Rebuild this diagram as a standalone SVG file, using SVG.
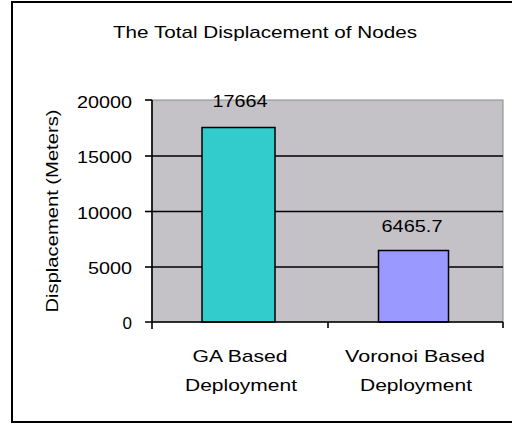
<svg xmlns="http://www.w3.org/2000/svg" width="512" height="425" viewBox="0 0 512 425">
<style>
text{font-family:"Liberation Sans",Arial,sans-serif;fill:#000;}
.t{font-size:17px;}
.ax{stroke:#000;stroke-width:1.6;fill:none;}
.grid{stroke:#000;stroke-width:1.6;}
.bar{stroke:#000;stroke-width:1.5;}
</style>
<rect x="12" y="2" width="520" height="420" fill="#fff" stroke="#000" stroke-width="2"/>
<text class="t" x="265" y="38" text-anchor="middle" textLength="304" lengthAdjust="spacingAndGlyphs">The Total Displacement of Nodes</text>
<g id="plot">
<rect x="152" y="100" width="351" height="222" fill="#c4c2c6" stroke="#888" stroke-width="1"/>
<line class="grid" x1="152" y1="156" x2="503" y2="156"/>
<line class="grid" x1="152" y1="211.5" x2="503" y2="211.5"/>
<line class="grid" x1="152" y1="267" x2="503" y2="267"/>
</g>
<g id="bar-ga">
<rect class="bar" x="202" y="127.5" width="73" height="194.5" fill="#33cccc"/>
<text class="t" x="240" y="107" text-anchor="middle" textLength="55" lengthAdjust="spacingAndGlyphs">17664</text>
</g>
<g id="bar-voronoi">
<rect class="bar" x="378.5" y="250.5" width="70" height="71.5" fill="#9999ff"/>
<text class="t" x="412" y="232" text-anchor="middle" textLength="61" lengthAdjust="spacingAndGlyphs">6465.7</text>
</g>
<g id="axes">
<line class="ax" x1="152" y1="100" x2="152" y2="329"/>
<line class="ax" x1="145" y1="322" x2="503" y2="322"/>
<line class="ax" x1="145" y1="100" x2="152" y2="100"/>
<line class="ax" x1="145" y1="156" x2="152" y2="156"/>
<line class="ax" x1="145" y1="211.5" x2="152" y2="211.5"/>
<line class="ax" x1="145" y1="267" x2="152" y2="267"/>
<line class="ax" x1="328" y1="322" x2="328" y2="328"/>
<line class="ax" x1="503" y1="322" x2="503" y2="328"/>
</g>
<g id="ylabels" text-anchor="end">
<text class="t" x="132" y="108" textLength="55" lengthAdjust="spacingAndGlyphs">20000</text>
<text class="t" x="132" y="163" textLength="55" lengthAdjust="spacingAndGlyphs">15000</text>
<text class="t" x="132" y="219" textLength="55" lengthAdjust="spacingAndGlyphs">10000</text>
<text class="t" x="132" y="274" textLength="44" lengthAdjust="spacingAndGlyphs">5000</text>
<text class="t" x="132" y="329">0</text>
</g>
<text class="t" transform="translate(58,211) rotate(-90)" text-anchor="middle" textLength="203" lengthAdjust="spacingAndGlyphs">Displacement (Meters)</text>
<g id="xlabels" text-anchor="middle">
<text class="t" x="240" y="362" textLength="95" lengthAdjust="spacingAndGlyphs">GA Based</text>
<text class="t" x="241" y="391" textLength="112" lengthAdjust="spacingAndGlyphs">Deployment</text>
<text class="t" x="415" y="362" textLength="140" lengthAdjust="spacingAndGlyphs">Voronoi Based</text>
<text class="t" x="416" y="391" textLength="112" lengthAdjust="spacingAndGlyphs">Deployment</text>
</g>
</svg>
